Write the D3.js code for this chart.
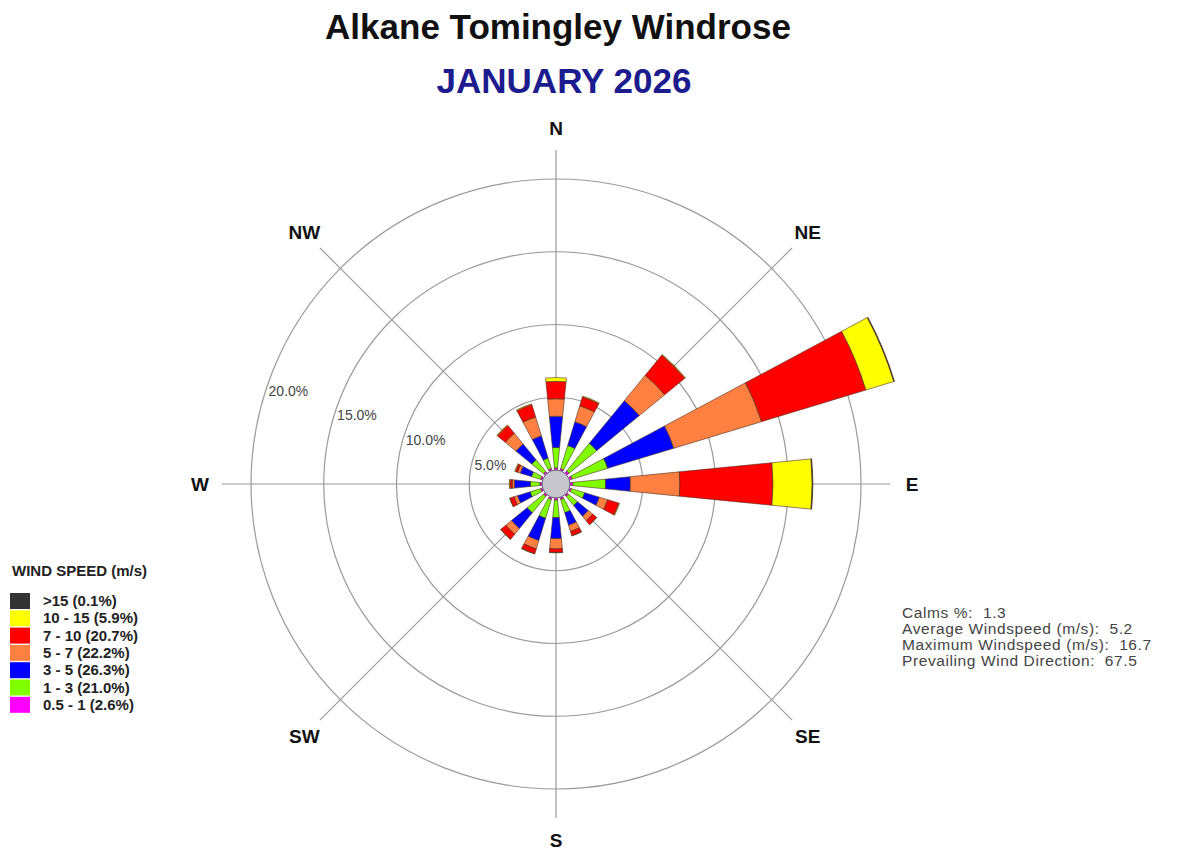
<!DOCTYPE html>
<html>
<head>
<meta charset="utf-8">
<script src="https://cdn.jsdelivr.net/npm/d3@7"></script>
<style>
  body { margin: 0; background: #fff; }
  text { font-family: "Liberation Sans", Arial, sans-serif; }
</style>
</head>
<body>
<div id="rose"></div>
<script>
var svgWidth = 1184;
var svgHeight = 852;

// directions, clockwise from north
var directions = ["N", "NNE", "NE", "ENE", "E", "ESE", "SE", "SSE",
  "S", "SSW", "SW", "WSW", "W", "WNW", "NW", "NNW"];

// percent of time per direction for each speed class
var spd05to1 = [0.15, 0.15, 0.2, 0.2, 0.2, 0.15, 0.15, 0.15, 0.15, 0.15, 0.15, 0.15, 0.15, 0.15, 0.15, 0.15];
var spd1to3  = [1.4, 1.65, 2.45, 2.55, 2.25, 0.95, 0.8, 0.95, 1.2, 1.35, 1.45, 0.75, 0.65, 0.65, 1.05, 0.75];
var spd3to5  = [2.15, 1.7, 3.8, 4.75, 1.7, 1.05, 0.95, 0.9, 1.45, 1.6, 1.4, 0.9, 1.1, 0.8, 1.4, 1.6];
var spd5to7  = [1.2, 1.15, 2.25, 6.3, 3.4, 0.6, 0.4, 0.45, 0.7, 0.6, 0.5, 0.25, 0.15, 0.2, 0.95, 1.35];
var spd7to10 = [1.2, 0.65, 1.8, 7.5, 6.4, 0.8, 0.35, 0.3, 0.25, 0.35, 0.45, 0.3, 0.15, 0.15, 0.7, 0.9];
var spd10to15 = [0.25, 0.05, 0.05, 2.0, 2.7, 0.05, 0.02, 0.02, 0.02, 0.02, 0.02, 0.02, 0.05, 0.05, 0.05, 0.05];
var spdOver15 = [0, 0, 0, 0.05, 0.05, 0, 0, 0, 0, 0, 0, 0, 0, 0, 0, 0];

var speedKeys = ["s1", "s2", "s3", "s4", "s5", "s6", "s7"];
var speedColors = ["#ff00ff", "#80ff00", "#0000ff", "#ff8040", "#ff0000", "#ffff00", "#333333"];

// legend, top row first
var legendLabels = [">15 (0.1%)", "10 - 15 (5.9%)", "7 - 10 (20.7%)", "5 - 7 (22.2%)",
  "3 - 5 (26.3%)", "1 - 3 (21.0%)", "0.5 - 1 (2.6%)"];
var legendColors = ["#333333", "#ffff00", "#ff0000", "#ff8040", "#0000ff", "#80ff00", "#ff00ff"];

var ringValues = [5, 10, 15, 20];
var compassLabels = ["N", "NE", "E", "SE", "S", "SW", "W", "NW"];

var statsLines = ["Calms %:  1.3", "Average Windspeed (m/s):  5.2",
  "Maximum Windspeed (m/s):  16.7", "Prevailing Wind Direction:  67.5"];

var cx = 556;
var cy = 484;

var svg = d3.select("#rose")
  .append("svg")
  .attr("width", svgWidth)
  .attr("height", svgHeight);

var data = directions.map(function(d, i) {
  return {
    dir: d,
    s1: spd05to1[i], s2: spd1to3[i], s3: spd3to5[i], s4: spd5to7[i],
    s5: spd7to10[i], s6: spd10to15[i], s7: spdOver15[i]
  };
});

var rScale = d3.scaleLinear().domain([0, 20]).range([14, 305]);
var angleScale = d3.scaleBand().domain(directions).range([-Math.PI / 16, 2 * Math.PI - Math.PI / 16]);

var series = d3.stack().keys(speedKeys)(data);

var chartGroup = svg.append("g")
  .attr("transform", `translate(${cx}, ${cy})`);

// rings
chartGroup.selectAll(".ring")
  .data(ringValues)
  .enter()
  .append("circle")
  .attr("r", d => rScale(d))
  .attr("fill", "none")
  .attr("stroke", "#9a9a9a")
  .attr("stroke-width", 1.2);

// spokes
chartGroup.selectAll(".spoke")
  .data(compassLabels)
  .enter()
  .append("line")
  .attr("x1", 0)
  .attr("y1", 0)
  .attr("x2", (d, i) => 334 * Math.sin(i * Math.PI / 4))
  .attr("y2", (d, i) => -334 * Math.cos(i * Math.PI / 4))
  .attr("stroke", "#9a9a9a")
  .attr("stroke-width", 1.2);

var halfWidth = Math.PI / 32;
var arc = d3.arc()
  .innerRadius(d => rScale(d[0]))
  .outerRadius(d => rScale(d[1]))
  .startAngle(d => angleScale(d.data.dir) + Math.PI / 16 - halfWidth)
  .endAngle(d => angleScale(d.data.dir) + Math.PI / 16 + halfWidth);

chartGroup.selectAll(".speed")
  .data(series)
  .enter()
  .append("g")
  .attr("fill", (d, i) => speedColors[i])
  .selectAll("path")
  .data(d => d.filter(p => p[1] - p[0] > 0))
  .enter()
  .append("path")
  .attr("d", arc)
  .attr("stroke", "#4a3020")
  .attr("stroke-width", 0.6);

// calm circle
chartGroup.append("circle")
  .attr("r", rScale(0))
  .attr("fill", "#c6c6cc")
  .attr("stroke", "#6e5a86")
  .attr("stroke-width", 1);

// ring labels
chartGroup.selectAll(".ringLabel")
  .data(ringValues)
  .enter()
  .append("text")
  .attr("x", function(d) {
    var r = rScale(d);
    var dy = 0.338 * r - 10;
    return -Math.sqrt(r * r - dy * dy) + 3;
  })
  .attr("y", d => -(0.338 * rScale(d) - 10))
  .attr("dy", "0.35em")
  .attr("font-size", "14px")
  .attr("fill", "#444")
  .text(d => d.toFixed(1) + "%");

// compass labels
chartGroup.selectAll(".compass")
  .data(compassLabels)
  .enter()
  .append("text")
  .attr("x", (d, i) => 356 * Math.sin(i * Math.PI / 4))
  .attr("y", (d, i) => -356 * Math.cos(i * Math.PI / 4))
  .attr("dy", "0.36em")
  .attr("text-anchor", "middle")
  .attr("font-size", "19px")
  .attr("font-weight", "bold")
  .attr("fill", "#111")
  .text(d => d);

// titles
svg.append("text")
  .attr("x", 558)
  .attr("y", 39)
  .attr("text-anchor", "middle")
  .attr("font-size", "35px")
  .attr("font-weight", "bold")
  .attr("fill", "#111")
  .text("Alkane Tomingley Windrose");

svg.append("text")
  .attr("x", 564)
  .attr("y", 93)
  .attr("text-anchor", "middle")
  .attr("font-size", "35px")
  .attr("font-weight", "bold")
  .attr("fill", "#1c1c8e")
  .text("JANUARY 2026");

// legend
var legendGroup = svg.append("g")
  .attr("transform", "translate(10, 576)");

legendGroup.append("text")
  .attr("x", 2)
  .attr("y", 0)
  .attr("font-size", "15px")
  .attr("font-weight", "bold")
  .attr("fill", "#222")
  .text("WIND SPEED (m/s)");

legendGroup.selectAll("rect")
  .data(legendColors)
  .enter()
  .append("rect")
  .attr("x", 0)
  .attr("y", (d, i) => 17 + i * 17.3)
  .attr("width", 20)
  .attr("height", 16)
  .attr("fill", d => d);

legendGroup.selectAll(".legendText")
  .data(legendLabels)
  .enter()
  .append("text")
  .attr("x", 33)
  .attr("y", (d, i) => 30 + i * 17.3)
  .attr("font-size", "15px")
  .attr("font-weight", "bold")
  .attr("fill", "#222")
  .text(d => d);

// stats
svg.append("g")
  .selectAll("text")
  .data(statsLines)
  .enter()
  .append("text")
  .attr("x", 902)
  .attr("y", (d, i) => 618 + i * 16)
  .attr("font-size", "15.5px")
  .attr("letter-spacing", "0.6px")
  .attr("fill", "#444")
  .style("white-space", "pre")
  .text(d => d);
</script>
</body>
</html>
